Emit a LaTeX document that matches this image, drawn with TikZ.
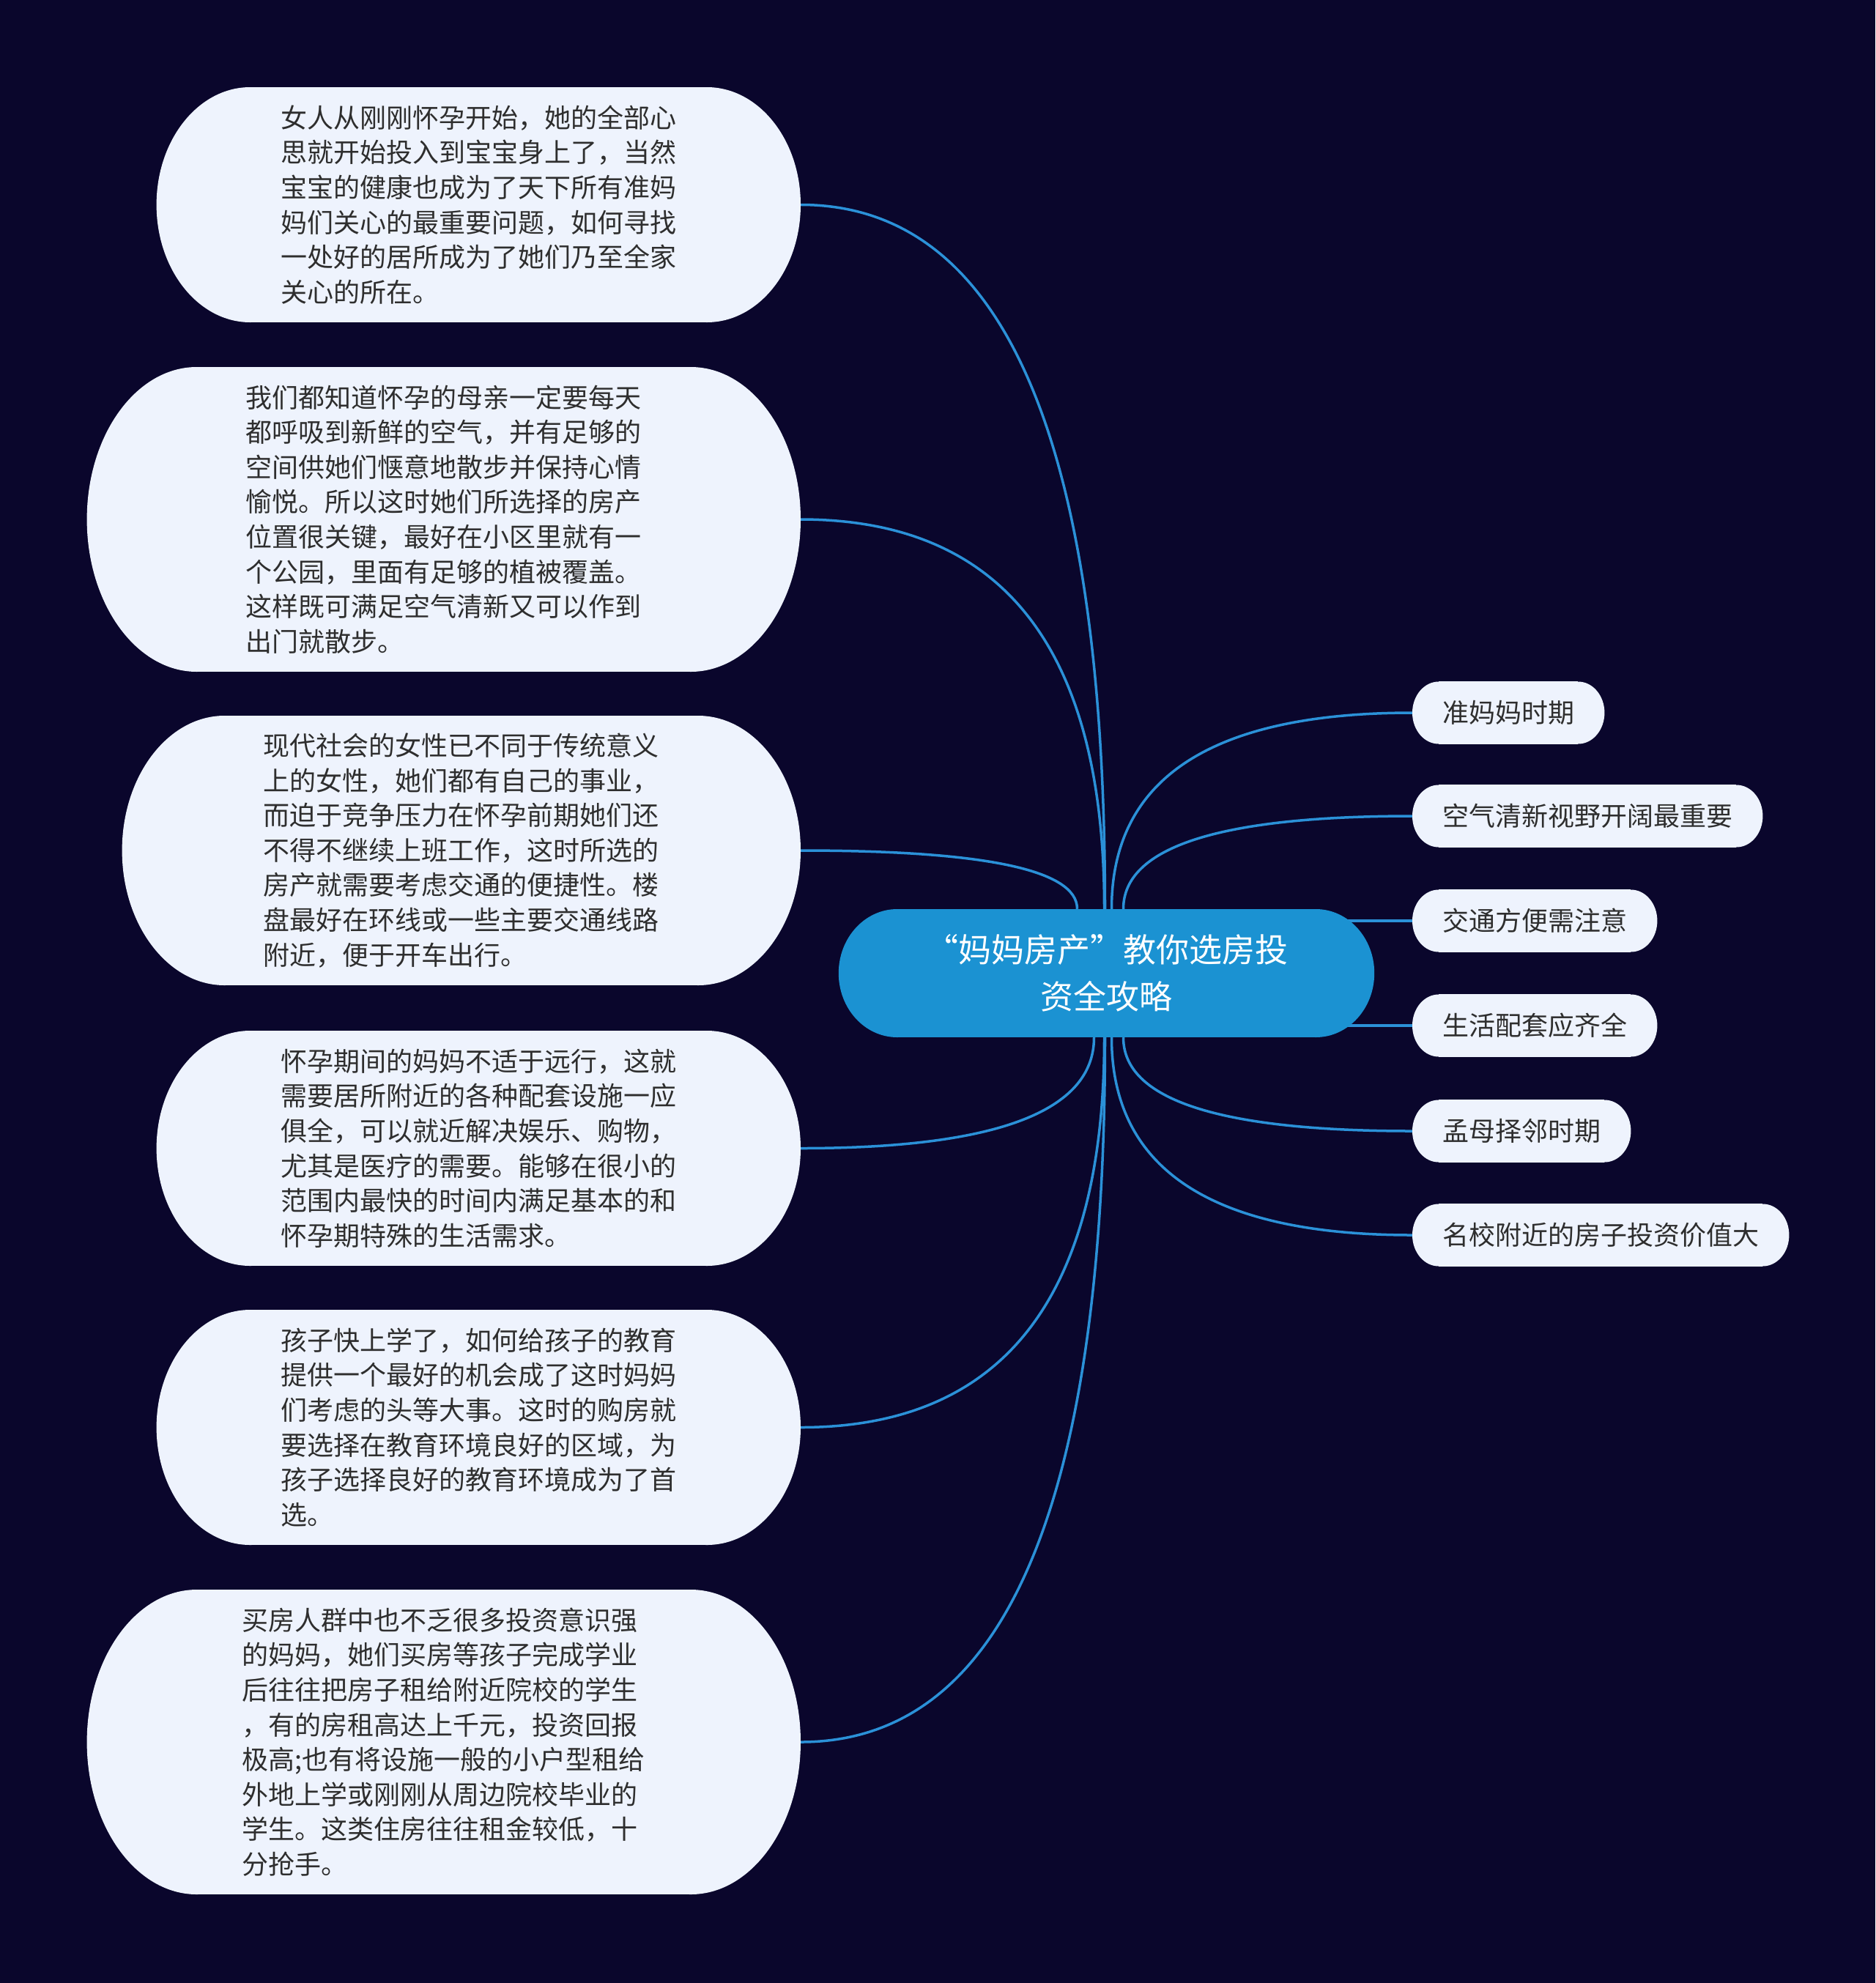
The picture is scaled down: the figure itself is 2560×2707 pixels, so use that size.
\documentclass[tikz,border=0pt]{standalone}
\usepackage{fontspec}
\setmainfont{Noto Sans CJK SC}
\usepackage{tikz}
\usetikzlibrary{positioning, calc, backgrounds}
\definecolor{nightbg}{HTML}{0A062C}
\definecolor{rootblue}{HTML}{1B92D2}
\definecolor{branchblue}{HTML}{2B91D8}
\definecolor{leaffill}{HTML}{EEF3FD}
\definecolor{leaftext}{HTML}{2E2E2E}
\pgfdeclarelayer{back}
\pgfdeclarelayer{links}
\pgfdeclarelayer{bubble}
\pgfsetlayers{back,links,bubble,main}
% bubble with elliptic ends behind a node: name, x radius, y radius, colour
\newcommand{\bubble}[4]{%
  \fill[#4] ([xshift=#2pt]#1.north west) rectangle ([xshift=-#2pt]#1.south east);
  \fill[#4] ([xshift=#2pt]#1.west) ellipse [x radius=#2pt, y radius=#3pt];
  \fill[#4] ([xshift=-#2pt]#1.east) ellipse [x radius=#2pt, y radius=#3pt];
}
% curved branch: leaves #1 vertically, reaches #2 horizontally
\newcommand{\branchto}[2]{%
  \draw[branch] (#1) .. controls ($(#1)!0.667!(#1|-#2)$) and ($(#2)!0.667!(#1|-#2)$) .. (#2);
}

\begin{document}
\begin{tikzpicture}[x=1pt, y=-1pt,
    topic/.style={font=\fontsize{45}{64}\selectfont, text=white, align=center, inner sep=0pt},
    idea/.style={font=\fontsize{36}{47.6}\selectfont, text=leaftext, align=left, inner sep=0pt, anchor=east},
    leaf/.style={font=\fontsize{36}{47.6}\selectfont, text=leaftext, inner xsep=41pt, inner ysep=0pt, minimum height=85pt, anchor=west},
    branch/.style={branchblue, line width=3.5pt}]
\useasboundingbox (0,0) rectangle (2560,2707);
\begin{pgfonlayer}{back}
  \fill[nightbg] (0,0) rectangle (2560,2707);
\end{pgfonlayer}
% Central topic
\node[topic, minimum width=731pt, minimum height=175pt] (root) at (1510.5,1328.5)
    {“妈妈房产”教你选房投\\资全攻略};
% Left ideas
\node[idea, minimum width=879pt, minimum height=321pt] (n1) at (1093,279.5)
    {女人从刚刚怀孕开始，她的全部心\\思就开始投入到宝宝身上了，当然\\宝宝的健康也成为了天下所有准妈\\妈们关心的最重要问题，如何寻找\\一处好的居所成为了她们乃至全家\\关心的所在。};
\node[idea, minimum width=974pt, minimum height=416pt] (n2) at (1093,709)
    {我们都知道怀孕的母亲一定要每天\\都呼吸到新鲜的空气，并有足够的\\空间供她们惬意地散步并保持心情\\愉悦。所以这时她们所选择的房产\\位置很关键，最好在小区里就有一\\个公园，里面有足够的植被覆盖。\\这样既可满足空气清新又可以作到\\出门就散步。};
\node[idea, minimum width=926pt, minimum height=368pt] (n3) at (1093,1161)
    {现代社会的女性已不同于传统意义\\上的女性，她们都有自己的事业，\\而迫于竞争压力在怀孕前期她们还\\不得不继续上班工作，这时所选的\\房产就需要考虑交通的便捷性。楼\\盘最好在环线或一些主要交通线路\\附近，便于开车出行。};
\node[idea, minimum width=879pt, minimum height=321pt] (n4) at (1093,1567.5)
    {怀孕期间的妈妈不适于远行，这就\\需要居所附近的各种配套设施一应\\俱全，可以就近解决娱乐、购物，\\尤其是医疗的需要。能够在很小的\\范围内最快的时间内满足基本的和\\怀孕期特殊的生活需求。};
\node[idea, minimum width=879pt, minimum height=321pt] (n5) at (1093,1948.5)
    {孩子快上学了，如何给孩子的教育\\提供一个最好的机会成了这时妈妈\\们考虑的头等大事。这时的购房就\\要选择在教育环境良好的区域，为\\孩子选择良好的教育环境成为了首\\选。};
\node[idea, minimum width=974pt, minimum height=416pt] (n6) at (1093,2378)
    {买房人群中也不乏很多投资意识强\\的妈妈，她们买房等孩子完成学业\\后往往把房子租给附近院校的学生\\，有的房租高达上千元，投资回报\\极高;也有将设施一般的小户型租给\\外地上学或刚刚从周边院校毕业的\\学生。这类住房往往租金较低，十\\分抢手。};
% Right leaves
\foreach \name/\ypos/\txt in {r1/973/准妈妈时期, r2/1114/空气清新视野开阔最重要,
    r3/1257/交通方便需注意, r4/1400/生活配套应齐全,
    r5/1544/孟母择邻时期, r6/1686/名校附近的房子投资价值大}{
  \node[leaf] (\name) at (1928,\ypos) {\txt};
}
% Node backgrounds
\begin{pgfonlayer}{bubble}
  \bubble{root}{80}{87.5}{rootblue}
  \foreach \name/\rx/\ry in {n1/128/160.5, n2/150/208, n3/140/184,
      n4/128/160.5, n5/128/160.5, n6/150/208}{
    \bubble{\name}{\rx}{\ry}{leaffill}
  }
  \foreach \name in {r1,r2,r3,r4,r5,r6}{
    \bubble{\name}{36}{42.5}{leaffill}
  }
\end{pgfonlayer}
% Branch start points on the topic
\coordinate (t1) at ([xshift=-2pt]root.north);
\coordinate (t2) at ([xshift=-3pt]root.north);
\coordinate (t3) at ([xshift=-40pt]root.north);
\coordinate (t4) at ([xshift=7pt]root.north);
\coordinate (t5) at ([xshift=23pt]root.north);
\coordinate (b1) at ([xshift=-17pt]root.south);
\coordinate (b2) at ([xshift=-3pt]root.south);
\coordinate (b3) at ([xshift=-2pt]root.south);
\coordinate (b4) at ([xshift=23pt]root.south);
\coordinate (b5) at ([xshift=7pt]root.south);
% Branches
\begin{pgfonlayer}{links}
  \branchto{t1}{n1.east}
  \branchto{t2}{n2.east}
  \branchto{t3}{n3.east}
  \branchto{b1}{n4.east}
  \branchto{b2}{n5.east}
  \branchto{b3}{n6.east}
  \branchto{t4}{r1.west}
  \branchto{t5}{r2.west}
  \draw[branch] (root.center |- r3.west) -- (r3.west);
  \draw[branch] (root.center |- r4.west) -- (r4.west);
  \branchto{b4}{r5.west}
  \branchto{b5}{r6.west}
\end{pgfonlayer}
\end{tikzpicture}
\end{document}
